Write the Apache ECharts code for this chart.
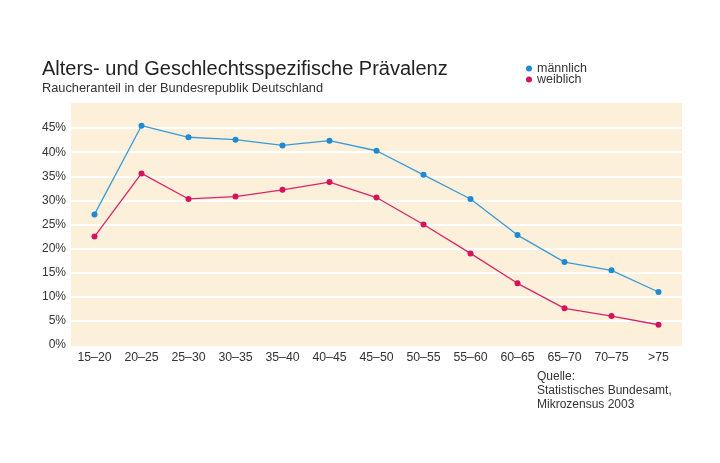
<!DOCTYPE html>
<html>
<head>
<meta charset="utf-8">
<script src="https://cdn.jsdelivr.net/npm/echarts@6/dist/echarts.min.js"></script>
<style>html,body{margin:0;padding:0;background:#fff}#c{width:720px;height:463px}</style>
</head>
<body>
<div id="c"></div>
<script>
var categories = ['15–20','20–25','25–30','30–35','35–40','40–45','45–50','50–55','55–60','60–65','65–70','70–75','>75'];
var maennlich = [27.1, 45.5, 43.1, 42.6, 41.4, 42.4, 40.3, 35.3, 30.3, 22.8, 17.2, 15.5, 11.0];
var weiblich = [22.5, 35.6, 30.3, 30.8, 32.2, 33.8, 30.6, 25.0, 19.0, 12.8, 7.6, 6.0, 4.2];
var yTicks = [0, 5, 10, 15, 20, 25, 30, 35, 40, 45, 50];

var FONT = '"Liberation Sans", Arial, sans-serif';
var BG = '#fcf0da';
var chart = echarts.init(document.getElementById('c'), null, {renderer: 'canvas'});
var gridColors = yTicks.map(function (v, i) { return (i === 0 || i === yTicks.length - 1) ? BG : '#ffffff'; });
chart.setOption({
  backgroundColor: '#ffffff',
  animation: false,
  textStyle: {fontFamily: FONT},
  title: {
    text: 'Alters- und Geschlechtsspezifische Prävalenz',
    subtext: 'Raucheranteil in der Bundesrepublik Deutschland',
    left: 37, top: 54,
    itemGap: 3,
    textStyle: {fontFamily: FONT, fontSize: 20, fontWeight: 'normal', color: '#222'},
    subtextStyle: {fontFamily: FONT, fontSize: 12.8, color: '#333'}
  },
  legend: {
    orient: 'vertical', left: 521, top: 57,
    itemWidth: 6, itemHeight: 6, itemGap: -2,
    icon: 'circle',
    textStyle: {fontFamily: FONT, fontSize: 12.5, color: '#333', lineHeight: 11},
    data: ['männlich', 'weiblich']
  },
  grid: {left: 71, right: 38, top: 104, bottom: 118, show: true, backgroundColor: BG, borderWidth: 0},
  xAxis: {
    type: 'category', data: categories, boundaryGap: true,
    axisLine: {show: false}, axisTick: {show: false},
    axisLabel: {fontFamily: FONT, fontSize: 12.3, color: '#333', margin: 7, interval: 0}
  },
  yAxis: {
    type: 'value', min: 0, max: 50, interval: 5,
    axisLine: {show: false}, axisTick: {show: false},
    axisLabel: {fontFamily: FONT, fontSize: 12, color: '#333', margin: 5,
      formatter: function (v) { return v === 50 ? '' : v + '%'; }},
    splitLine: {show: true, lineStyle: {color: gridColors, width: 2}}
  },
  graphic: [{
    type: 'text', left: 537, top: 370,
    style: {text: 'Quelle:\nStatistisches Bundesamt,\nMikrozensus 2003', font: '12px ' + FONT, fill: '#333', lineHeight: 13.7}
  }],
  series: [{
    name: 'männlich', type: 'line', data: maennlich,
    symbol: 'circle', symbolSize: 6,
    itemStyle: {color: '#1f8ad2'},
    lineStyle: {color: '#3a9ad8', width: 1.3}
  }, {
    name: 'weiblich', type: 'line', data: weiblich,
    symbol: 'circle', symbolSize: 6,
    itemStyle: {color: '#d6125c'},
    lineStyle: {color: '#d8256a', width: 1.3}
  }]
});
</script>
</body>
</html>
